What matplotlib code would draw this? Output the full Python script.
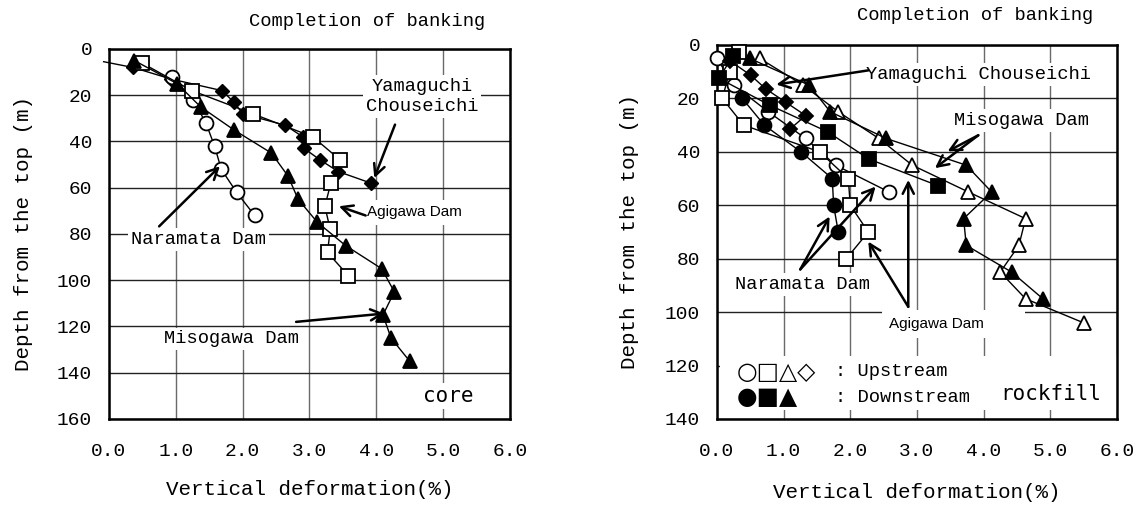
import matplotlib
matplotlib.use("Agg")
import matplotlib.pyplot as plt

# ---- core panel (left) ----
core_nara_x = [0.94, 1.26, 1.45, 1.58, 1.68, 1.91, 2.18]
core_nara_y = [12, 22, 32, 42, 52, 62, 72]
core_agi_x = [0.49, 1.24, 2.15, 3.05, 3.46, 3.32, 3.23, 3.31, 3.27, 3.58]
core_agi_y = [6, 18, 28, 38, 48, 58, 68, 78, 88, 98]
core_yama_x = [-0.08, 0.36, 0.93, 1.69, 1.87, 2.0, 2.64, 2.9, 2.92, 3.16, 3.43, 3.92]
core_yama_y = [5.5, 8, 13, 18, 23, 28, 33, 38, 43, 48, 53, 58]
core_miso_x = [0.38, 1.02, 1.37, 1.87, 2.43, 2.68, 2.83, 3.12, 3.54, 4.08, 4.27, 4.1, 4.22, 4.5]
core_miso_y = [5, 15, 25, 35, 45, 55, 65, 75, 85, 95, 105, 115, 125, 135]

# ---- rockfill panel (right) ----
rf_nara_up_x = [0.0, 0.25, 0.77, 1.33, 1.78, 2.58]
rf_nara_up_y = [5, 15, 25, 35, 45, 55]
rf_nara_dn_x = [0.38, 0.71, 1.26, 1.73, 1.75, 1.82]
rf_nara_dn_y = [20, 30, 40, 50, 60, 70]
rf_agi_up_x = [0.33, 0.19, 0.08, 0.4, 1.54, 1.97, 2.0, 2.27, 1.94]
rf_agi_up_y = [2.5, 10, 20, 30, 40, 50, 60, 70, 80]
rf_agi_dn_x = [0.24, 0.03, 0.79, 1.66, 2.28, 3.32]
rf_agi_dn_y = [4, 12.5, 22.5, 32.5, 42.7, 52.7]
rf_yama_x = [0.2, 0.51, 0.73, 1.03, 1.33, 1.1]
rf_yama_y = [6, 11.4, 16.4, 21.4, 26.4, 31.4]
rf_miso_up_x = [0.64, 1.29, 1.82, 2.43, 2.93, 3.77, 4.63, 4.53, 4.25, 4.63, 5.5]
rf_miso_up_y = [5, 15, 25, 35, 45, 55, 65, 75, 85, 95, 104]
rf_miso_dn_x = [0.49, 1.38, 1.7, 2.54, 3.74, 4.12, 3.7, 3.74, 4.42, 4.89]
rf_miso_dn_y = [5, 15, 25, 35, 45, 55, 65, 75, 85, 95]

x_ticks = [0, 1, 2, 3, 4, 5, 6]
x_tick_labels = ["0.0", "1.0", "2.0", "3.0", "4.0", "5.0", "6.0"]

SERIF = "Liberation Mono"
GOTHIC = "DejaVu Sans Mono"

fig = plt.figure(figsize=(11.33, 5.05), dpi=100)
axL = fig.add_axes([0.0962, 0.1703, 0.3539, 0.7327])
axR = fig.add_axes([0.6328, 0.1703, 0.3530, 0.7406])


def style_axis(ax, ymax, ystep):
    ax.set_xlim(0, 6)
    ax.set_ylim(ymax, 0)
    ax.set_xticks(x_ticks)
    ax.set_xticklabels(x_tick_labels, family=SERIF, fontsize=14)
    yt = list(range(0, ymax + 1, ystep))
    ax.set_yticks(yt)
    ax.set_yticklabels([str(v) for v in yt], family=SERIF, fontsize=14)
    ax.tick_params(length=0)
    ax.tick_params(axis="x", pad=17)
    ax.tick_params(axis="y", pad=12)
    ax.set_axisbelow(True)
    # vertical grid lines are a lighter grey than the horizontal ones
    ax.xaxis.grid(True, color="#6a6a6a", lw=1.0)
    ax.yaxis.grid(True, color="#222222", lw=1.0)
    for s in ax.spines.values():
        s.set_linewidth(1.8)
    ax.set_xlabel("Vertical deformation(%)", family=SERIF, fontsize=15)
    ax.set_ylabel("Depth from the top (m)", family=SERIF, fontsize=15)


def series(ax, x, y, marker, filled, ms, **kw):
    ax.plot(x, y, color="k", lw=1.0, marker=marker, ms=ms,
            mfc="k" if filled else "white", mec="k", mew=1.3, zorder=4, **kw)


def arrow(ax, tail, head):
    ax.annotate("", xy=head, xytext=tail,
                arrowprops=dict(arrowstyle="->", lw=1.8, color="k",
                                shrinkA=0, shrinkB=0, mutation_scale=20),
                zorder=5, annotation_clip=False)


WHITE = dict(fc="white", ec="none", pad=2)

# ---------------- left panel ----------------
style_axis(axL, 160, 20)
axL.xaxis.set_label_coords(0.5, -0.165)
axL.yaxis.set_label_coords(-0.19, 0.5)

axL.plot(core_yama_x, core_yama_y, color="k", lw=1.0, marker="D", ms=7.5,
         mfc="k", mec="k", markevery=list(range(1, len(core_yama_x))),
         zorder=4, clip_on=False)
series(axL, core_nara_x, core_nara_y, "o", False, 10)
series(axL, core_agi_x, core_agi_y, "s", False, 10)
series(axL, core_miso_x, core_miso_y, "^", True, 10)

axL.text(3.86, -12, "Completion of banking", family=SERIF, fontsize=13.5,
         ha="center", va="center")
axL.text(4.69, 20.5, "Yamaguchi\nChouseichi", family=SERIF, fontsize=13.5,
         ha="center", va="center", linespacing=1.25, bbox=WHITE, zorder=2)
arrow(axL, (4.28, 32.7), (3.97, 55.8))
axL.text(1.34, 82.4, "Naramata Dam", family=SERIF, fontsize=13.5,
         ha="center", va="center", bbox=WHITE, zorder=2)
arrow(axL, (0.75, 76.7), (1.66, 50.7))
axL.text(3.86, 70.5, "Agigawa Dam", family="Liberation Sans", fontsize=11,
         ha="left", va="center", bbox=dict(fc="white", ec="none", pad=4), zorder=2)
arrow(axL, (3.84, 72), (3.44, 68))
axL.text(1.84, 125.4, "Misogawa Dam", family=SERIF, fontsize=13.5,
         ha="center", va="center", bbox=WHITE, zorder=2)
arrow(axL, (2.8, 118), (4.12, 114.4))
axL.text(5.08, 150, "core", family=GOTHIC, fontsize=15,
         ha="center", va="center", bbox=WHITE, zorder=2)

# ---------------- right panel ----------------
style_axis(axR, 140, 20)
axR.xaxis.set_label_coords(0.5, -0.172)
axR.yaxis.set_label_coords(-0.194, 0.5)

series(axR, rf_nara_up_x, rf_nara_up_y, "o", False, 10, clip_on=False)
series(axR, rf_nara_dn_x, rf_nara_dn_y, "o", True, 10)
series(axR, rf_agi_up_x, rf_agi_up_y, "s", False, 10, clip_on=False)
series(axR, rf_agi_dn_x, rf_agi_dn_y, "s", True, 10, clip_on=False)
series(axR, rf_yama_x, rf_yama_y, "D", True, 7.5)
series(axR, rf_miso_up_x, rf_miso_up_y, "^", False, 10)
series(axR, rf_miso_dn_x, rf_miso_dn_y, "^", True, 10)

axR.text(3.88, -10.9, "Completion of banking", family=SERIF, fontsize=13.5,
         ha="center", va="center")
axR.text(2.24, 11, "Yamaguchi Chouseichi", family=SERIF, fontsize=13.5,
         ha="left", va="center", bbox=WHITE, zorder=2)
arrow(axR, (2.27, 9.5), (0.89, 14.8))
axR.text(4.57, 28.2, "Misogawa Dam", family=SERIF, fontsize=13.5,
         ha="center", va="center", bbox=WHITE, zorder=2)
arrow(axR, (3.92, 33.8), (3.27, 46.1))
arrow(axR, (3.92, 33.8), (3.46, 39.8))
axR.text(1.28, 89.6, "Naramata Dam", family=SERIF, fontsize=13.5,
         ha="center", va="center", bbox=WHITE, zorder=2)
arrow(axR, (1.25, 84), (1.69, 64.2))
arrow(axR, (1.25, 84), (2.38, 53))
axR.text(2.58, 104.3, "Agigawa Dam        ", family="Liberation Sans", fontsize=11,
         ha="left", va="center", bbox=dict(fc="white", ec="none", pad=5), zorder=2)
arrow(axR, (2.87, 98), (2.87, 50.5))
arrow(axR, (2.87, 98), (2.27, 73.6))

# legend block drawn as text, as in the original
axR.text(0.17, 126.5, " " * 34 + "\n", family=SERIF, fontsize=14,
         ha="left", va="center", bbox=dict(fc="white", ec="none", pad=6), zorder=2)
axR.text(0.3, 122.4, "○□△◇", family="DejaVu Sans", fontsize=17,
         ha="left", va="center", zorder=3)
axR.text(0.3, 131.8, "●■▲", family="DejaVu Sans", fontsize=17,
         ha="left", va="center", zorder=3)
axR.text(1.77, 122.4, ": Upstream", family=SERIF, fontsize=13.5,
         ha="left", va="center", zorder=3)
axR.text(1.77, 131.8, ": Downstream", family=SERIF, fontsize=13.5,
         ha="left", va="center", zorder=3)
axR.text(5.01, 130.6, "rockfill", family=GOTHIC, fontsize=15,
         ha="center", va="center", bbox=WHITE, zorder=2)

fig.savefig("out.png", dpi=100)
